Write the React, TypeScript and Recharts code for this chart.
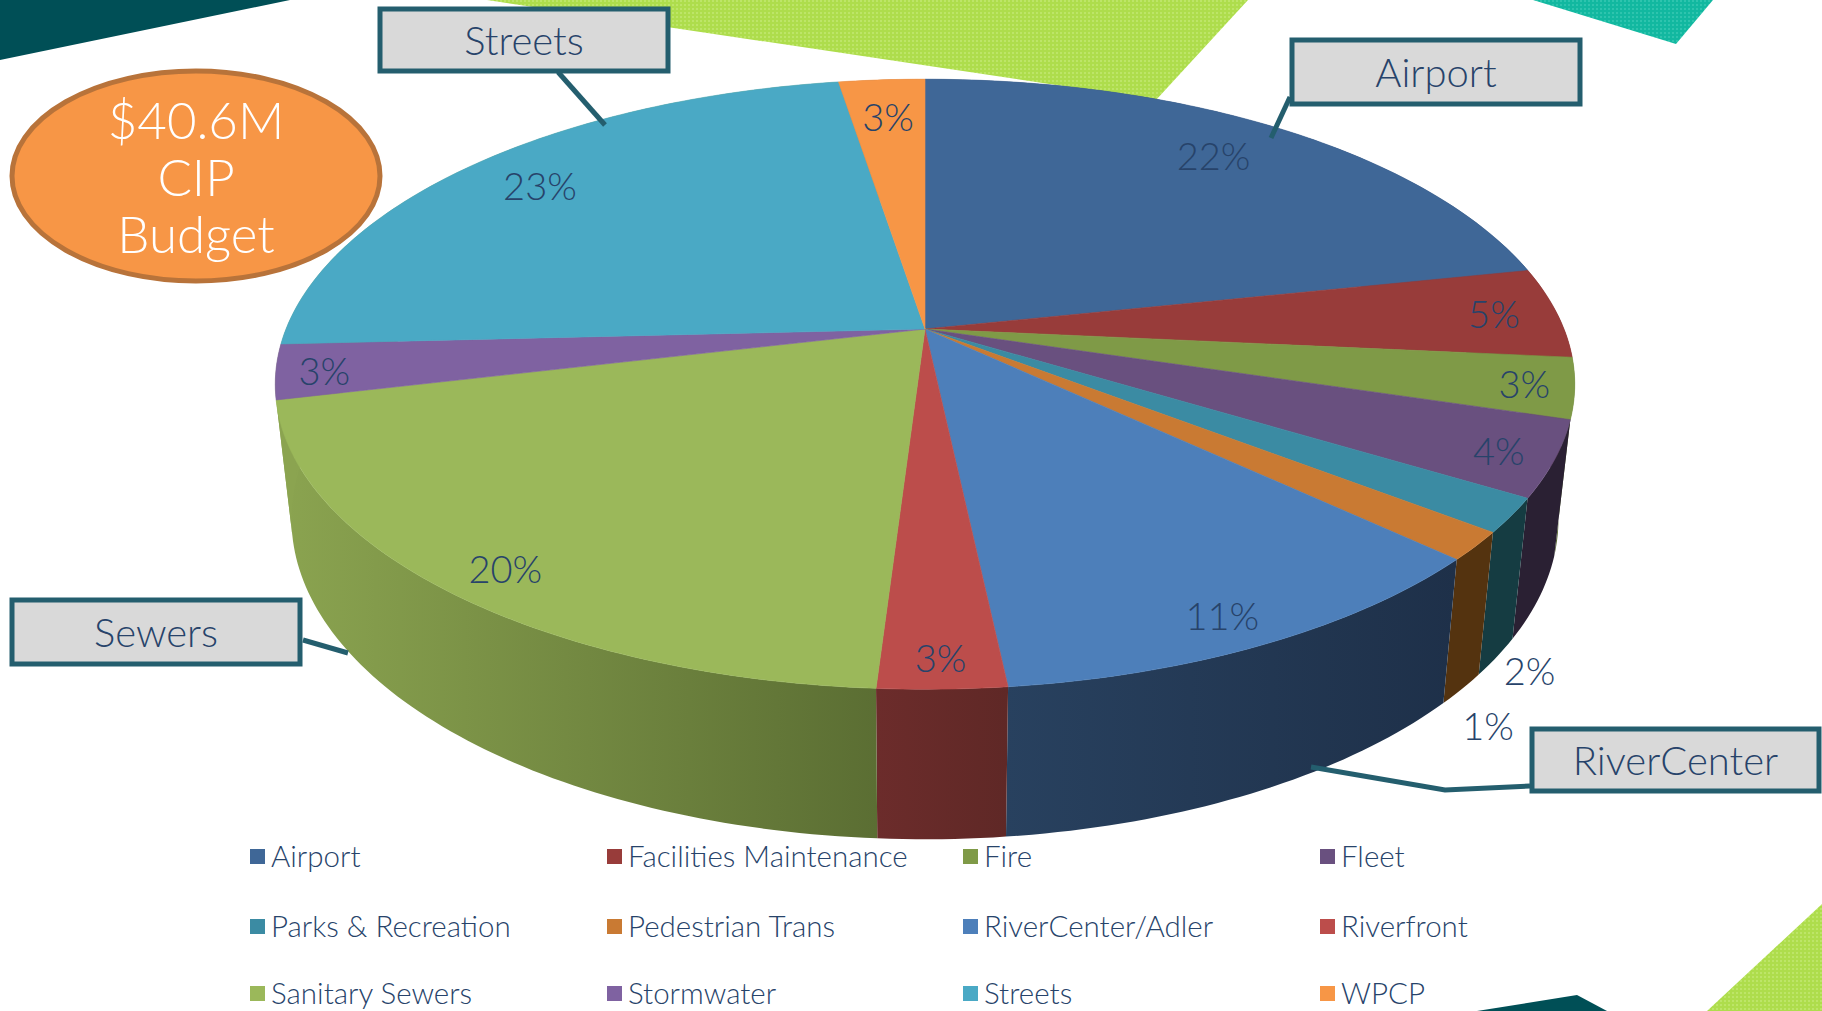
import { Legend, Pie, PieChart } from 'recharts';

const categories = [
  'Airport', 'Facilities Maintenance', 'Fire', 'Fleet',
  'Parks & Recreation', 'Pedestrian Trans', 'RiverCenter/Adler', 'Riverfront',
  'Sanitary Sewers', 'Stormwater', 'Streets', 'WPCP',
];
const shares = [21.7, 4.8, 3.2, 4.0, 1.8, 1.5, 11.3, 2.7, 20.3, 2.9, 23.25, 2.55];
const shareLabels = ['22%', '5%', '3%', '4%', '2%', '1%', '11%', '3%', '20%', '3%', '23%', '3%'];
const topColors = [
  '#3f6797', '#983c3a', '#7f9a47', '#69507f', '#3b8ba3', '#c97a33',
  '#4d7fba', '#bc4d4b', '#9bb85a', '#7f62a1', '#4aa9c5', '#f79646',
];
const wallLeft = [
  '#2a4163', '#652826', '#55672f', '#2a2033', '#153c42', '#54330f',
  '#28415f', '#6c2c2b', '#8ba450', '#8ba450', '#8ba450', '#a4632e',
];
const wallRight = [
  '#2a4163', '#652826', '#55672f', '#2a2033', '#153c42', '#54330f',
  '#1e3049', '#5f2826', '#5b6e33', '#8ba450', '#8ba450', '#a4632e',
];

// how far out each % label sits, as a share of the radius; past 1 it hangs below the wall
const labelReach = [0.797, 0.9, 0.925, 0.917, 1.051, 1.043, 0.893, 0.927, 0.893, 0.927, 0.85, 0.83];
const labelNudgeY = [-10, -1, -1, 2, 2, 25, 10, -1, 9, 2, 0, -1];

const tableRows = categories.map((name, i) => ({ name, value: shares[i], fill: topColors[i] }));

const FONT = 'Lato, sans-serif';
const INK = '#27436a';
const CX = 925;
const CY = 329;
const RADIUS = 639;

// perspective of the tilted disc
const TILT = 0.4617;
const PERSP = 0.181;
const BASE_X = 0.975;
const BASE_Y = 1.05;
const BASE_DROP = 132;

const rad = (deg: number) => (deg * Math.PI) / 180;

function onTop(cx: number, cy: number, r: number, deg: number, f = 1) {
  const c = Math.cos(rad(deg));
  const s = -Math.sin(rad(deg));
  const w = 1 - PERSP * f * s;
  return [cx + (r * f * c) / w, cy + (r * TILT * f * s) / w];
}

function onBase(cx: number, cy: number, r: number, deg: number, f = 1) {
  const [x, y] = onTop(cx, cy, r, deg, f);
  return [cx + BASE_X * (x - cx), cy + BASE_Y * (y - cy) + BASE_DROP];
}

function arcAngles(start: number, end: number) {
  const steps = Math.max(2, Math.ceil(Math.abs(end - start)));
  return Array.from({ length: steps + 1 }, (_, i) => start + ((end - start) * i) / steps);
}

const toPath = (pts: number[][]) =>
  pts.map((p, i) => `${i ? 'L' : 'M'}${p[0].toFixed(2)},${p[1].toFixed(2)}`).join(' ') + ' Z';

function TopSlice(props: any) {
  const { cx, cy, outerRadius, startAngle, endAngle, fill } = props;
  const rim = arcAngles(startAngle, endAngle).map((a) => onTop(cx, cy, outerRadius, a));
  return <path d={toPath([[cx, cy], ...rim])} fill={fill} stroke={fill} strokeWidth={0.6} />;
}

function WallSlice(props: any) {
  const { cx, cy, outerRadius, startAngle, endAngle, index } = props;
  const angles = arcAngles(startAngle, endAngle);
  const upper = angles.map((a) => onTop(cx, cy, outerRadius, a));
  const lower = angles.map((a) => onBase(cx, cy, outerRadius, a)).reverse();
  const id = `wall-${index}`;
  return (
    <g>
      <defs>
        <linearGradient id={id} x1="0" y1="0" x2="1" y2="0">
          <stop offset="0" stopColor={wallLeft[index]} />
          <stop offset="1" stopColor={wallRight[index]} />
        </linearGradient>
      </defs>
      <path d={toPath([...upper, ...lower])} fill={`url(#${id})`} stroke="none" />
    </g>
  );
}

function renderShareLabel(props: any) {
  const { cx, cy, outerRadius, midAngle, index } = props;
  const f = labelReach[index];
  const [x, y] = f > 1 ? onBase(cx, cy, outerRadius, midAngle, f) : onTop(cx, cy, outerRadius, midAngle, f);
  return (
    <text
      x={x}
      y={y + labelNudgeY[index]}
      textAnchor="middle"
      dominantBaseline="central"
      fontFamily={FONT}
      fontWeight={300}
      fontSize={38}
      fill={INK}
    >
      {shareLabels[index]}
    </text>
  );
}

const legendCols = [250, 607, 963, 1320];
const legendRows = [856, 926, 993];

function GridLegend(props: any) {
  // both Pie layers report their sectors, keep one entry per category
  const items = (props.payload || []).filter(
    (item: any, i: number, all: any[]) => all.findIndex((o) => o.value === item.value) === i,
  );
  return (
    <div style={{ position: 'absolute', left: 0, top: 0, width: 1822, height: 1011 }}>
      {items.map((item: any, i: number) => (
        <div
          key={item.value}
          style={{
            position: 'absolute',
            left: legendCols[i % 4],
            top: legendRows[Math.floor(i / 4)] - 18,
            height: 36,
            lineHeight: '36px',
            display: 'flex',
            alignItems: 'center',
            whiteSpace: 'nowrap',
            fontFamily: FONT,
            fontWeight: 300,
            fontSize: 29.5,
            color: INK,
          }}
        >
          <span style={{ width: 15, height: 15, background: item.color, marginRight: 6 }} />
          {item.value}
        </div>
      ))}
    </div>
  );
}

const callouts = [
  { name: 'Streets', x: 380, y: 9, w: 288, h: 62, line: '558,72 605,125' },
  { name: 'Airport', x: 1292, y: 40, w: 288, h: 64, line: '1290,97 1271,138' },
  { name: 'Sewers', x: 12, y: 600, w: 288, h: 64, line: '303,640 348,653' },
  { name: 'RiverCenter', x: 1532, y: 729, w: 287, h: 62, line: '1311,767 1445,790 1530,786' },
];
const budgetLines = ['$40.6M', 'CIP', 'Budget'];

function Backdrop() {
  return (
    <svg width={1822} height={1011} style={{ position: 'absolute', left: 0, top: 0 }}>
      <defs>
        <pattern id="mesh-green" width="4" height="4" patternUnits="userSpaceOnUse">
          <rect width="4" height="4" fill="#aedd4c" />
          <rect width="2" height="2" fill="#bde568" />
        </pattern>
        <pattern id="mesh-teal" width="4" height="4" patternUnits="userSpaceOnUse">
          <rect width="4" height="4" fill="#12b8a0" />
          <rect width="2" height="2" fill="#2ec4ae" />
        </pattern>
      </defs>
      <polygon points="0,0 290,0 0,60" fill="#004f56" />
      <polygon points="487,0 1248,0 1156,100" fill="url(#mesh-green)" />
      <polygon points="1533,0 1713,0 1676,44" fill="url(#mesh-teal)" />
      <polygon points="1477,1011 1577,995 1607,1011" fill="#004f56" />
      <polygon points="1707,1011 1822,904 1822,1011" fill="url(#mesh-green)" />
    </svg>
  );
}

function Overlay() {
  return (
    <svg width={1822} height={1011} style={{ position: 'absolute', left: 0, top: 0, pointerEvents: 'none' }}>
      {callouts.map((c) => (
        <g key={c.name}>
          <polyline points={c.line} fill="none" stroke="#245e6e" strokeWidth={5} />
          <rect x={c.x} y={c.y} width={c.w} height={c.h} fill="#d9d9d9" stroke="#245e6e" strokeWidth={5} />
          <text
            x={c.x + c.w / 2}
            y={c.y + c.h / 2}
            textAnchor="middle"
            dominantBaseline="central"
            fontFamily={FONT}
            fontWeight={300}
            fontSize={40}
            fill={INK}
          >
            {c.name}
          </text>
        </g>
      ))}
      <ellipse cx={196} cy={176} rx={184} ry={105} fill="#f79646" stroke="#b8733a" strokeWidth={5} />
      {budgetLines.map((line, i) => (
        <text
          key={line}
          x={196}
          y={119 + i * 57}
          textAnchor="middle"
          dominantBaseline="central"
          fontFamily={FONT}
          fontWeight={300}
          fontSize={51}
          fill="#ffffff"
        >
          {line}
        </text>
      ))}
    </svg>
  );
}

export default function App() {
  return (
    <div style={{ position: 'absolute', left: 0, top: 0, width: 1822, height: 1011, overflow: 'hidden', background: '#fff' }}>
      <Backdrop />
      <div style={{ position: 'absolute', left: 0, top: 0 }}>
        <PieChart width={1822} height={1011} margin={{ top: 0, right: 0, bottom: 0, left: 0 }}>
          <Pie
            data={tableRows}
            dataKey="value"
            nameKey="name"
            cx={CX}
            cy={CY}
            outerRadius={RADIUS}
            startAngle={90}
            endAngle={-270}
            legendType="none"
            shape={WallSlice}
            isAnimationActive={false}
          />
          <Pie
            data={tableRows}
            dataKey="value"
            nameKey="name"
            cx={CX}
            cy={CY}
            outerRadius={RADIUS}
            startAngle={90}
            endAngle={-270}
            shape={TopSlice}
            label={renderShareLabel}
            labelLine={false}
            isAnimationActive={false}
          />
          <Legend content={GridLegend} wrapperStyle={{ left: 0, top: 0, width: 1822, height: 1011 }} />
        </PieChart>
      </div>
      <Overlay />
    </div>
  );
}
